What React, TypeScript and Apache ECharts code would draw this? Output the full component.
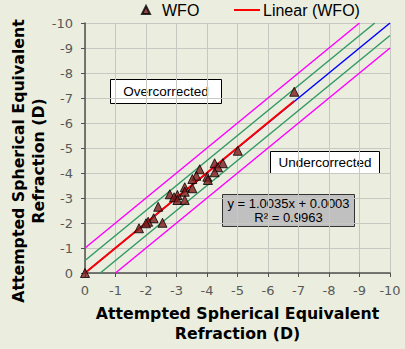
import React, { useEffect, useRef } from "react";
import * as echarts from "echarts";

// Attempted (x) vs achieved (y) spherical equivalent refraction, WFO group
const wfoX = [-6.86, -5.01, -4.25, -4.52, -4.36, -4.25, -3.76, -3.65, -3.52, -4.01, -4.03, -3.52, -3.27, -3.27, -2.78, -3.03, -2.92, -3.03, -3.27, -2.4, -2.25, -2.07, -2.0, -2.54, -1.77, 0];
const wfoY = [-7.25, -4.89, -4.39, -4.39, -4.23, -4.03, -4.15, -3.89, -3.76, -3.85, -3.72, -3.39, -3.43, -3.25, -3.15, -3.12, -3.03, -2.92, -2.92, -2.65, -2.19, -2.05, -1.99, -2.01, -1.79, 0];

// Linear fit (WFO): y = 1.0035x + 0.0003, drawn over the data range
const fitX = [0, -6.86];
const fitY = [0.0003, -6.8837];

// Reference lines: identity, ±0.5 D, ±1.0 D
const identityX = [0, -10];
const identityY = [0, -10];
const greenUpperX = [0, -9.5];
const greenUpperY = [-0.5, -10];
const greenLowerX = [-0.5, -10];
const greenLowerY = [0, -9.5];
const magentaUpperX = [0, -9];
const magentaUpperY = [-1, -10];
const magentaLowerX = [-1, -10];
const magentaLowerY = [0, -9];

const axisTitle = "Attempted Spherical Equivalent\nRefraction (D)";
const equationLines = ["y = 1.0035x + 0.0003", "R² = 0.9963"];

const pairs = (xs: number[], ys: number[]) => xs.map((x, i) => [x, ys[i]]);

export default function App() {
  const ref = useRef<HTMLDivElement>(null);
  useEffect(() => {
    document.body.style.margin = "0";
    if (!ref.current) return;
    const chart = echarts.init(ref.current, null, { renderer: "svg" });
    const tickFont = { fontFamily: "DejaVu Sans", fontSize: 13, color: "#595959" };
    const titleFont = { fontFamily: "DejaVu Sans", fontWeight: "bold" as const, fontSize: 15.75, lineHeight: 20, color: "#000" };
    const axisCommon = {
      type: "value" as const,
      min: -10,
      max: 0,
      interval: 1,
      inverse: true,
      axisLine: { show: true, onZero: false, lineStyle: { color: "#505050", width: 1.5 } },
      axisTick: { show: true, length: 4, lineStyle: { color: "#505050" } },
      splitLine: { show: true, lineStyle: { color: "#C8C8C2", width: 1 } },
    };
    const refLine = (xs: number[], ys: number[], color: string, z = 2) => ({
      type: "line" as const,
      data: pairs(xs, ys),
      showSymbol: false,
      symbol: "none",
      lineStyle: { color, width: 1.5 },
      itemStyle: { color },
      z,
      silent: true,
    });
    chart.setOption({
      animation: false,
      backgroundColor: "#EBEEDE",
      grid: { left: 85, right: 15, top: 23, bottom: 76, containLabel: false, outerBoundsMode: "none" },
      legend: [
        {
          data: [{ name: "WFO", icon: "triangle" }],
          left: 141,
          top: 2,
          padding: 0,
          itemWidth: 8,
          itemHeight: 8,
          textStyle: { fontFamily: "Liberation Sans", fontSize: 16, color: "#000", padding: [0, 0, 0, 7] },
        },
        {
          data: [{ name: "Linear (WFO)", icon: "rect" }],
          left: 234,
          top: 2,
          padding: 0,
          itemWidth: 26,
          itemHeight: 2,
          textStyle: { fontFamily: "Liberation Sans", fontSize: 16, color: "#000", padding: [0, 0, 0, -2] },
        },
      ],
      xAxis: {
        ...axisCommon,
        name: axisTitle,
        nameLocation: "middle",
        nameTextStyle: titleFont,
        nameGap: 30,
        axisLabel: { ...tickFont, margin: 11 },
      },
      yAxis: {
        ...axisCommon,
        axisLabel: { ...tickFont, margin: 12 },
      },
      series: [
        refLine(magentaUpperX, magentaUpperY, "#FF00FF"),
        refLine(magentaLowerX, magentaLowerY, "#FF00FF"),
        refLine(greenUpperX, greenUpperY, "#339966"),
        refLine(greenLowerX, greenLowerY, "#339966"),
        refLine(identityX, identityY, "#0000FF"),
        {
          name: "Linear (WFO)",
          type: "line",
          data: pairs(fitX, fitY),
          showSymbol: false,
          symbol: "none",
          lineStyle: { color: "#FF0000", width: 2 },
          itemStyle: { color: "#FF0000" },
          z: 3,
        },
        {
          name: "WFO",
          type: "scatter",
          data: pairs(wfoX, wfoY),
          symbol: "triangle",
          symbolSize: 9,
          clip: false,
          itemStyle: { color: "#7E1B1B", borderColor: "#000", borderWidth: 1 },
          z: 4,
        },
      ],
      graphic: [
        {
          type: "text",
          x: 28.5,
          y: 161,
          rotation: Math.PI / 2,
          z: 10,
          style: {
            text: axisTitle,
            fontFamily: "DejaVu Sans",
            fontWeight: "bold",
            fontSize: 15.75,
            lineHeight: 20,
            fill: "#000",
            align: "center",
            verticalAlign: "middle",
          },
        },
        {
          type: "group",
          left: 110,
          top: 79,
          z: 10,
          children: [
            { type: "rect", shape: { x: 0, y: 0, width: 111, height: 24 }, style: { fill: "#fff", stroke: "#000", lineWidth: 1 } },
            { type: "text", x: 55.5, y: 12, style: { text: "Overcorrected", fontFamily: "Liberation Sans", fontSize: 13.5, fill: "#000", align: "center", verticalAlign: "middle" } },
          ],
        },
        {
          type: "group",
          left: 270,
          top: 151,
          z: 10,
          children: [
            { type: "rect", shape: { x: 0, y: 0, width: 109, height: 22 }, style: { fill: "#fff", stroke: "#000", lineWidth: 1 } },
            { type: "text", x: 54.5, y: 11, style: { text: "Undercorrected", fontFamily: "Liberation Sans", fontSize: 13.5, fill: "#000", align: "center", verticalAlign: "middle" } },
          ],
        },
        {
          type: "group",
          left: 222,
          top: 194,
          z: 10,
          children: [
            { type: "rect", shape: { x: 0, y: 0, width: 132, height: 32 }, style: { fill: "#C0C0C0", stroke: "#333", lineWidth: 1 } },
            { type: "text", x: 66, y: 8.5, style: { text: equationLines[0], fontFamily: "Liberation Sans", fontSize: 13, fill: "#000", align: "center", verticalAlign: "middle" } },
            { type: "text", x: 66, y: 23, style: { text: equationLines[1], fontFamily: "Liberation Sans", fontSize: 13, fill: "#000", align: "center", verticalAlign: "middle" } },
          ],
        },
      ],
    });
    return () => chart.dispose();
  }, []);
  return <div ref={ref} style={{ position: "fixed", left: 0, top: 0, width: 405, height: 349 }} />;
}
